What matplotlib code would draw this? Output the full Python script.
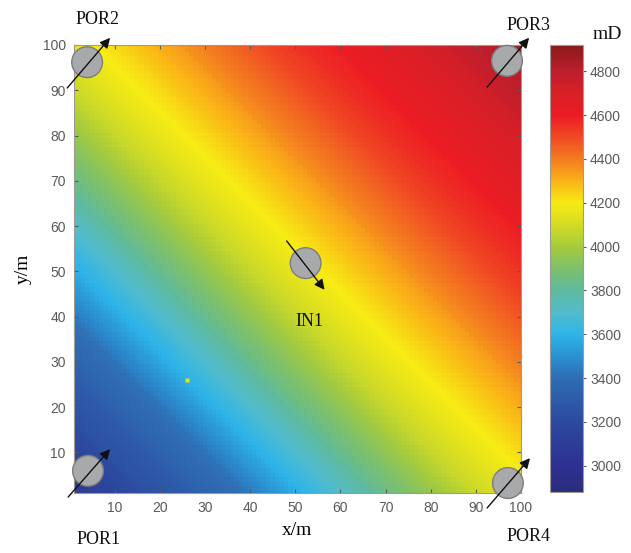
"""
Permeability field of the 100 m x 100 m block with the four producers
(POR1-POR4) and the injector IN1.
"""
import matplotlib
matplotlib.use('Agg')
import matplotlib.pyplot as plt
import numpy as np
from matplotlib.colors import LinearSegmentedColormap
from matplotlib.patches import Circle

# permeability (mD) read along the diagonal, as a function of s = x + y
s_knots = [2, 20, 40, 52, 60, 70, 80, 90, 100, 110, 120, 130, 140, 150, 160, 170, 180, 190, 200]
k_knots = [3080, 3250, 3420, 3590, 3690, 3830, 3950, 4070, 4160, 4230, 4310, 4400,
           4480, 4550, 4600, 4660, 4720, 4800, 4880]

# wells: name, circle centre, arrow start, arrow tip, label position
well_names = ['POR1', 'POR2', 'POR3', 'POR4', 'IN1']
well_xy = [(4.1, 5.9), (3.9, 96.2), (96.9, 96.5), (97.1, 3.2), (52.3, 51.8)]
arrow_from = [(-0.3, 0.1), (-0.5, 90.5), (92.5, 90.7), (92.5, -2.3), (48.1, 56.7)]
arrow_to = [(9.0, 10.7), (9.0, 101.6), (101.8, 101.6), (102.0, 8.7), (56.5, 45.9)]
label_xy = [(6.4, -9.3), (6.2, 105.6), (101.7, 104.2), (101.7, -8.7), (53.2, 38.8)]

# marked cell
dot_xy = (26.0, 26.0)

cb_ticks = [3000, 3200, 3400, 3600, 3800, 4000, 4200, 4400, 4600, 4800]
clim = (2880, 4920)

# jet-like palette as it looks in print
cmap_vals = [2880, 3000, 3200, 3400, 3500, 3600, 3700, 3800, 3900, 4000, 4100,
             4200, 4300, 4400, 4500, 4600, 4700, 4800, 4920]
cmap_cols = ['#2a2d7c', '#2e3192', '#2c4a9e', '#2f6db5', '#2a92d2', '#2eb4e8',
             '#52bccb', '#5fba9d', '#7dc06a', '#a5cb3d', '#d3dc24', '#f6eb14',
             '#fab317', '#f47c20', '#f04a23', '#ec1c24', '#d91f26', '#bf1e2d',
             '#8a1a1c']
pos = [(v - clim[0]) / (clim[1] - clim[0]) for v in cmap_vals]
cmap = LinearSegmentedColormap.from_list('perm', list(zip(pos, cmap_cols)), N=256)

serif = 'Liberation Serif'
sans = 'Liberation Sans'
tick_col = '#5a5a5a'

fig = plt.figure(figsize=(6.31, 5.53), dpi=100)
ax = fig.add_axes([74 / 631, 60 / 553, 447 / 631, 448 / 553])
cax = fig.add_axes([550 / 631, 61 / 553, 33 / 631, 447 / 553])

# build the grid of cells
xc = np.arange(1, 101)
X, Y = np.meshgrid(xc, xc)
K = np.interp(X + Y, s_knots, k_knots)
edges = np.arange(0.5, 101.5)
mesh = ax.pcolormesh(edges, edges, K, cmap=cmap, vmin=clim[0], vmax=clim[1],
                     shading='flat', rasterized=True)

ax.plot(*dot_xy, 's', ms=3, color='#f2e500', mec='none')

for name, c, a0, a1, lp in zip(well_names, well_xy, arrow_from, arrow_to, label_xy):
    ax.add_patch(Circle(c, 3.4, facecolor='#a8a9ab', edgecolor='#7d7d7d',
                        lw=1.0, clip_on=False, zorder=3))
    ax.annotate('', xy=a1, xytext=a0, annotation_clip=False, zorder=4,
                arrowprops=dict(arrowstyle='-|>', color='#111111', lw=1.0,
                                mutation_scale=15, shrinkA=0, shrinkB=0))
    ax.text(lp[0], lp[1], name, family=serif, fontsize=13, ha='center',
            va='center', color='#111111', clip_on=False)

ax.set_xlim(1, 100)
ax.set_ylim(1, 100)
ax.set_xticks(np.arange(10, 101, 10))
ax.set_yticks(np.arange(10, 101, 10))
ax.tick_params(direction='in', length=3, colors=tick_col, labelsize=10,
               top=True, right=True, pad=6)
for lab in ax.get_xticklabels() + ax.get_yticklabels():
    lab.set_family(sans)
for sp in ax.spines.values():
    sp.set_color('#a09a94')
    sp.set_linewidth(0.8)

ax.set_xlabel('x/m', family=serif, fontsize=14, labelpad=5)
ax.set_ylabel('y/m', family=serif, fontsize=14, labelpad=8)

cb = fig.colorbar(mesh, cax=cax, ticks=cb_ticks)
cb.outline.set_edgecolor('#a09a94')
cb.outline.set_linewidth(0.8)
cax.tick_params(direction='out', length=2, colors=tick_col, labelsize=10, pad=3)
for lab in cax.get_yticklabels():
    lab.set_family(sans)
cax.text(1.75, 1.005, 'mD', transform=cax.transAxes, family=serif, fontsize=14,
         ha='center', va='bottom', color='#111111')

fig.savefig('out.png', dpi=100)
